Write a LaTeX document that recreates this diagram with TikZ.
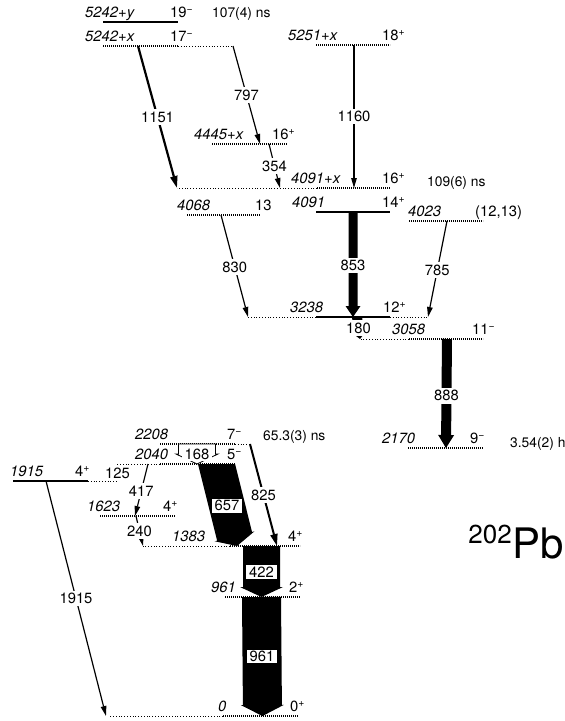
\documentclass[tikz,border=0pt]{standalone}
\usepackage{fontspec}
\setmainfont{TeX Gyre Heros}
\usetikzlibrary{arrows.meta,calc}
\newcommand{\gsize}{\fontsize{14.8pt}{17pt}\selectfont}
\newcommand{\tsize}{\fontsize{13.8pt}{16pt}\selectfont}
\newcommand{\jpar}[1]{\textsuperscript{#1}}
\tikzset{
    lvl/.style={draw=black,line width=1.1pt},
    lvlhatch/.style={draw=black,line width=1.3pt,dash pattern=on 1.2pt off 0.8pt},
    lvlext/.style={draw=black,line width=0.8pt,dotted},
    elabel/.style={anchor=base west,inner sep=0pt,font=\gsize\itshape},
    slabel/.style={anchor=base west,inner sep=0pt,font=\gsize},
    tlabel/.style={anchor=base west,inner sep=0pt,font=\tsize},
    gline/.style={draw=black,line width=1.2pt,-{Triangle[length=10pt,width=5.5pt]}},
    gthick/.style={draw=black,line width=2.2pt,-{Triangle[length=12pt,width=7pt]}},
    glabel/.style={fill=white,inner xsep=1.5pt,inner ysep=2.5pt,font=\gsize},
    wlabel/.style={fill=white,inner xsep=3pt,inner ysep=1.5pt,font=\gsize},
    wide/.style={fill=black},
    wideopen/.style={draw=black,fill=white,line width=0.8pt}
}
% name, style, x1, x2, y, energy x, energy, spin x, spin
\newcommand{\enlevel}[9]{%
  \draw[#2] (#3,#5) coordinate (#1w) -- (#4,#5) coordinate (#1e);
  \node[elabel] (#1en) at (#6,#5-4.5) {#7};
  \node[slabel] (#1sp) at (#8,#5-4.5) {#9};
}
% style, from, to, half body, half head, head length
\newcommand{\widearrow}[6]{%
  \coordinate (wah) at ($(#3)!#6!(#2)$);
  \path[#1] ($(#2)!#4!90:(#3)$) -- ($(wah)!#4!90:(#3)$) -- ($(wah)!#5!90:(#3)$) -- (#3)
    -- ($(wah)!#5!-90:(#3)$) -- ($(wah)!#4!-90:(#3)$) -- ($(#2)!#4!-90:(#3)$) -- cycle;
}

\begin{document}
\begin{tikzpicture}[x=1pt,y=-1pt,font=\gsize]
  \useasboundingbox (0,0) rectangle (565,721);

  % levels
  \enlevel{L5242y}{lvl}{103}{178}{22}{85}{5242+y}{170}{19\jpar{−}}
  \enlevel{L5242x}{lvlhatch}{103}{178}{46}{85}{5242+x}{170}{17\jpar{−}}
  \enlevel{L5251x}{lvlhatch}{316}{390}{45}{288}{5251+x}{382}{18\jpar{+}}
  \enlevel{L4445x}{lvlhatch}{212}{287}{144}{194}{4445+x}{272}{16\jpar{+}}
  \enlevel{L4091x}{lvlhatch}{317}{390}{188}{291}{4091+x}{382}{16\jpar{+}}
  \enlevel{L4068}{lvlhatch}{187}{260}{215}{177}{4068}{255}{13}
  \enlevel{L4091}{lvl}{316}{390}{212}{292}{4091}{382}{14\jpar{+}}
  \enlevel{L4023}{lvlhatch}{409}{483}{221}{408}{4023}{475}{(12,13)}
  \enlevel{L3238}{lvl}{316}{390}{317}{290}{3238}{383}{12\jpar{+}}
  \enlevel{L3058}{lvlhatch}{409}{483}{339}{392}{3058}{472}{11\jpar{−}}
  \enlevel{L2170}{lvlhatch}{408}{483}{448}{382}{2170}{470}{9\jpar{−}}
  \enlevel{L2208}{lvlhatch}{160}{235}{444}{135}{2208}{227}{7\jpar{−}}
  \enlevel{L2040}{lvlhatch}{160}{235}{464}{135}{2040}{227}{5\jpar{−}}
  \enlevel{L1915}{lvl}{13}{88}{481}{10}{1915}{75}{4\jpar{+}}
  \enlevel{L1623}{lvlhatch}{100}{175}{516}{87}{1623}{163}{4\jpar{+}}
  \enlevel{L1383}{lvlhatch}{230}{300}{546}{172}{1383}{288}{4\jpar{+}}
  \enlevel{L961}{lvlhatch}{225}{300}{597}{211}{961}{289}{2\jpar{+}}
  \enlevel{L0}{lvlhatch}{223}{298}{716}{218}{0}{290}{0\jpar{+}}

  \draw[lvlext] (L5242xe) -- ++(55,0);
  \draw[lvlext] (L4091xw) -- ++(-140,0);
  \draw[lvlext] (L3238w) -- ++(-68,0);
  \draw[lvlext] (L3238e) -- ++(38,0);
  \draw[lvlext] (L3058w) -- ++(-49,0);
  \draw[lvlext] (L2208e) -- ++(15,0);
  \draw[lvlext] (L2040w) -- ++(-43,0);
  \draw[lvlext] (L1915e) -- ++(29,0);
  \draw[lvlext] (L1383w) -- ++(-87,0);
  \draw[lvlext] (L0w) -- ++(-113,0);

  \node[tlabel] (t5242y) at (212,17) {107(4) ns};
  \node[tlabel] (t4091x) at (427,186) {109(6) ns};
  \node[tlabel] (t2208) at (263,440) {65.3(3) ns};
  \node[tlabel] (t2170) at (510,447) {3.54(2) h};

  % transition end points
  \coordinate (g1151a) at (138,46);  \coordinate (g1151b) at (177,188);
  \coordinate (g797a) at (233,46);   \coordinate (g797b) at (260,144);
  \coordinate (g354a) at (269,144);  \coordinate (g354b) at (280,188);
  \coordinate (g1160a) at (354,45);  \coordinate (g1160b) at (354,188);
  \coordinate (g830a) at (221,215);  \coordinate (g830b) at (248,317);
  \coordinate (g853a) at (353,212);  \coordinate (g853b) at (353,317);
  \coordinate (g785a) at (447,221);  \coordinate (g785b) at (428,317);
  \coordinate (g180a) at (357,317);  \coordinate (g180b) at (360,339);
  \coordinate (g888a) at (447,339);  \coordinate (g888b) at (446,448);
  \coordinate (g168a) at (197,444);  \coordinate (g168b) at (197,464);
  \coordinate (g657a) at (214.1,454.3); \coordinate (g657b) at (237,546);
  \coordinate (g825a) at (250,444);  \coordinate (g825b) at (277,546);
  \coordinate (g417a) at (148,464);  \coordinate (g417b) at (135,516);
  \coordinate (g240a) at (136,516);  \coordinate (g240b) at (143,546);
  \coordinate (g1915a) at (46,481);  \coordinate (g1915b) at (106,716);
  \coordinate (g422a) at (261.5,546); \coordinate (g422b) at (261.5,597);
  \coordinate (g961a) at (261.5,597); \coordinate (g961b) at (262.5,716);

  % intense transitions
  \widearrow{wide}{g853a}{g853b}{4.5pt}{7.5pt}{11pt}
  \widearrow{wide}{g888a}{g888b}{5pt}{8pt}{13pt}
  \widearrow{wide}{g180a}{g180b}{5pt}{6pt}{6pt}
  \widearrow{wideopen}{g168a}{g168b}{18.5pt}{21pt}{10pt}
  \begin{scope}
    \clip (0,464) rectangle (565,721);
    \widearrow{wide}{g657a}{g657b}{18pt}{20.5pt}{10pt}
  \end{scope}
  \widearrow{wide}{g422a}{g422b}{18.5pt}{21.5pt}{10pt}
  \widearrow{wide}{g961a}{g961b}{19.5pt}{21.5pt}{11pt}

  \node[glabel] (n853) at ($(g853a)!0.51!(g853b)$) {853};
  \node[glabel] (n888) at ($(g888a)!0.52!(g888b)$) {888};
  \node[glabel] (n180) at ($(g180a)!0.5!(g180b)$) {180};
  \node[wlabel] (n168) at ($(g168a)!0.5!(g168b)$) {168};
  \node[wlabel] (n657) at ($(g657a)!0.56!(g657b)$) {657};
  \node[wlabel] (n422) at ($(g422a)!0.51!(g422b)$) {422};
  \node[wlabel] (n961) at ($(g961a)!0.5!(g961b)$) {961};

  % weaker transitions
  \draw[gthick] (g1151a) -- node[glabel] (n1151) {1151} (g1151b);
  \draw[gthick,line width=2pt] (g825a) -- node[glabel] (n825) {825} (g825b);
  \draw[gline] (g797a) -- node[glabel] (n797) {797} (g797b);
  \draw[gline] (g354a) -- node[glabel] (n354) {354} (g354b);
  \draw[gline] (g1160a) -- node[glabel] (n1160) {1160} (g1160b);
  \draw[gline] (g830a) -- node[glabel,pos=0.51] (n830) {830} (g830b);
  \draw[gline] (g785a) -- node[glabel,pos=0.51] (n785) {785} (g785b);
  \draw[gline] (g417a) -- node[glabel,pos=0.52] (n417) {417} (g417b);
  \draw[gline] (g240a) -- node[glabel] (n240) {240} (g240b);
  \draw[gline] (g1915a) -- node[glabel] (n1915) {1915} (g1915b);
  \node[slabel] (n125) at (105,478) {125};

  % nucleus
  \node[anchor=base west,inner sep=0pt,font=\fontsize{42pt}{44pt}\selectfont] (pb) at (512,558) {Pb};
  \node[anchor=south east,inner sep=0pt,font=\fontsize{26pt}{28pt}\selectfont] (a202) at ($(pb.base west)+(0,-14)$) {202};
\end{tikzpicture}
\end{document}
